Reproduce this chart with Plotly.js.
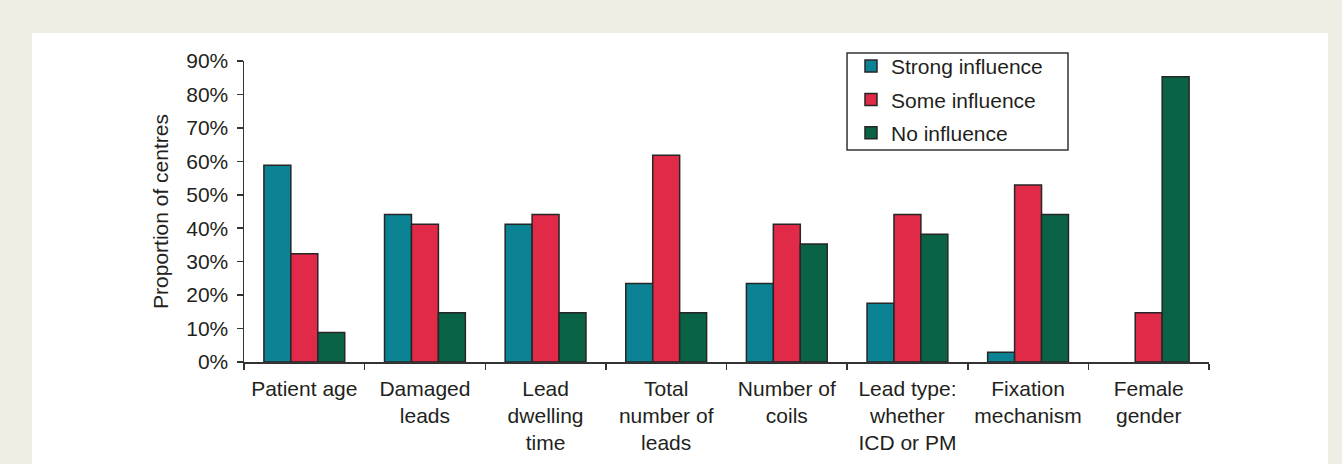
<!DOCTYPE html>
<html>
<head>
<meta charset="utf-8">
<script src="https://cdn.plot.ly/plotly-3.0.1.min.js"></script>
<style>
  html, body { margin: 0; padding: 0; background: #efeee5; width: 1342px; height: 464px; overflow: hidden; }
  #panel { position: absolute; left: 32px; top: 33px; width: 1296px; height: 440px; background: #ffffff; }
  #chart { position: absolute; left: 0; top: 0; width: 1342px; height: 464px; }
</style>
</head>
<body>
<div id="panel"></div>
<div id="chart"></div>
<script>
const categories = [
  "Patient age",
  "Damaged<br>leads",
  "Lead<br>dwelling<br>time",
  "Total<br>number of<br>leads",
  "Number of<br>coils",
  "Lead type:<br>whether<br>ICD or PM",
  "Fixation<br>mechanism",
  "Female<br>gender"
];
const strongInfluence = [58.8, 44.1, 41.2, 23.5, 23.5, 17.6, 2.9, 0];
const someInfluence   = [32.4, 41.2, 44.1, 61.8, 41.2, 44.1, 52.9, 14.7];
const noInfluence     = [8.8, 14.7, 14.7, 14.7, 35.3, 38.2, 44.1, 85.3];
const seriesNames = ["Strong influence", "Some influence", "No influence"];
const seriesColors = ["#0b8394", "#e02a47", "#0b6347"];
const yTickVals = [0, 10, 20, 30, 40, 50, 60, 70, 80, 90];

const FONT = "Liberation Sans, Arial, Helvetica, sans-serif";
const FS = 21;
const TXT = "#231f20";
const AX = "#333333";

const seriesValues = [strongInfluence, someInfluence, noInfluence];
const traces = seriesValues.map((vals, i) => ({
  type: "bar",
  name: seriesNames[i],
  x: categories,
  y: vals,
  legendgroup: "g" + i,
  marker: { color: seriesColors[i], line: { color: "#262626", width: vals.map(v => v > 0 ? 1.5 : 0) } },
  hoverinfo: "skip"
}));

const layout = {
  width: 1342,
  height: 464,
  paper_bgcolor: "rgba(0,0,0,0)",
  plot_bgcolor: "rgba(0,0,0,0)",
  margin: { l: 244, r: 133, t: 61, b: 102, pad: 0 },
  barmode: "group",
  bargap: 0.33,
  bargroupgap: 0,
  font: { family: FONT, size: FS, color: TXT },
  showlegend: true,
  legend: {
    x: 0.629, xanchor: "left",
    y: 1.05, yanchor: "top",
    bgcolor: "rgba(0,0,0,0)",
    borderwidth: 0,
    font: { family: FONT, size: FS, color: TXT },
    traceorder: "grouped",
    tracegroupgap: 3,
    itemclick: false
  },
  shapes: [{
    type: "rect", xref: "paper", yref: "paper", layer: "below",
    x0: 0.6249, x1: 0.8539, y0: 0.7043, y1: 1.0266,
    fillcolor: "#ffffff",
    line: { color: AX, width: 1.5 }
  }],
  xaxis: {
    type: "category",
    showline: true, linecolor: AX, linewidth: 1.5,
    ticks: "outside", ticklen: 6, tickwidth: 1.5, tickcolor: AX,
    tickson: "boundaries",
    ticklabelstandoff: 7,
    showgrid: false, zeroline: false,
    tickfont: { family: FONT, size: FS, color: TXT },
    fixedrange: true
  },
  yaxis: {
    range: [0, 90],
    tickvals: yTickVals,
    ticktext: yTickVals.map(v => v + "%"),
    showline: true, linecolor: AX, linewidth: 1.5,
    ticks: "outside", ticklen: 6, tickwidth: 1.5, tickcolor: AX,
    ticklabelstandoff: 4,
    showgrid: false, zeroline: false,
    tickfont: { family: FONT, size: FS, color: TXT },
    title: { text: "Proportion of centres", font: { family: FONT, size: FS, color: TXT }, standoff: 12 },
    fixedrange: true
  }
};

Plotly.newPlot("chart", traces, layout, { displayModeBar: false, staticPlot: true });
</script>
</body>
</html>
